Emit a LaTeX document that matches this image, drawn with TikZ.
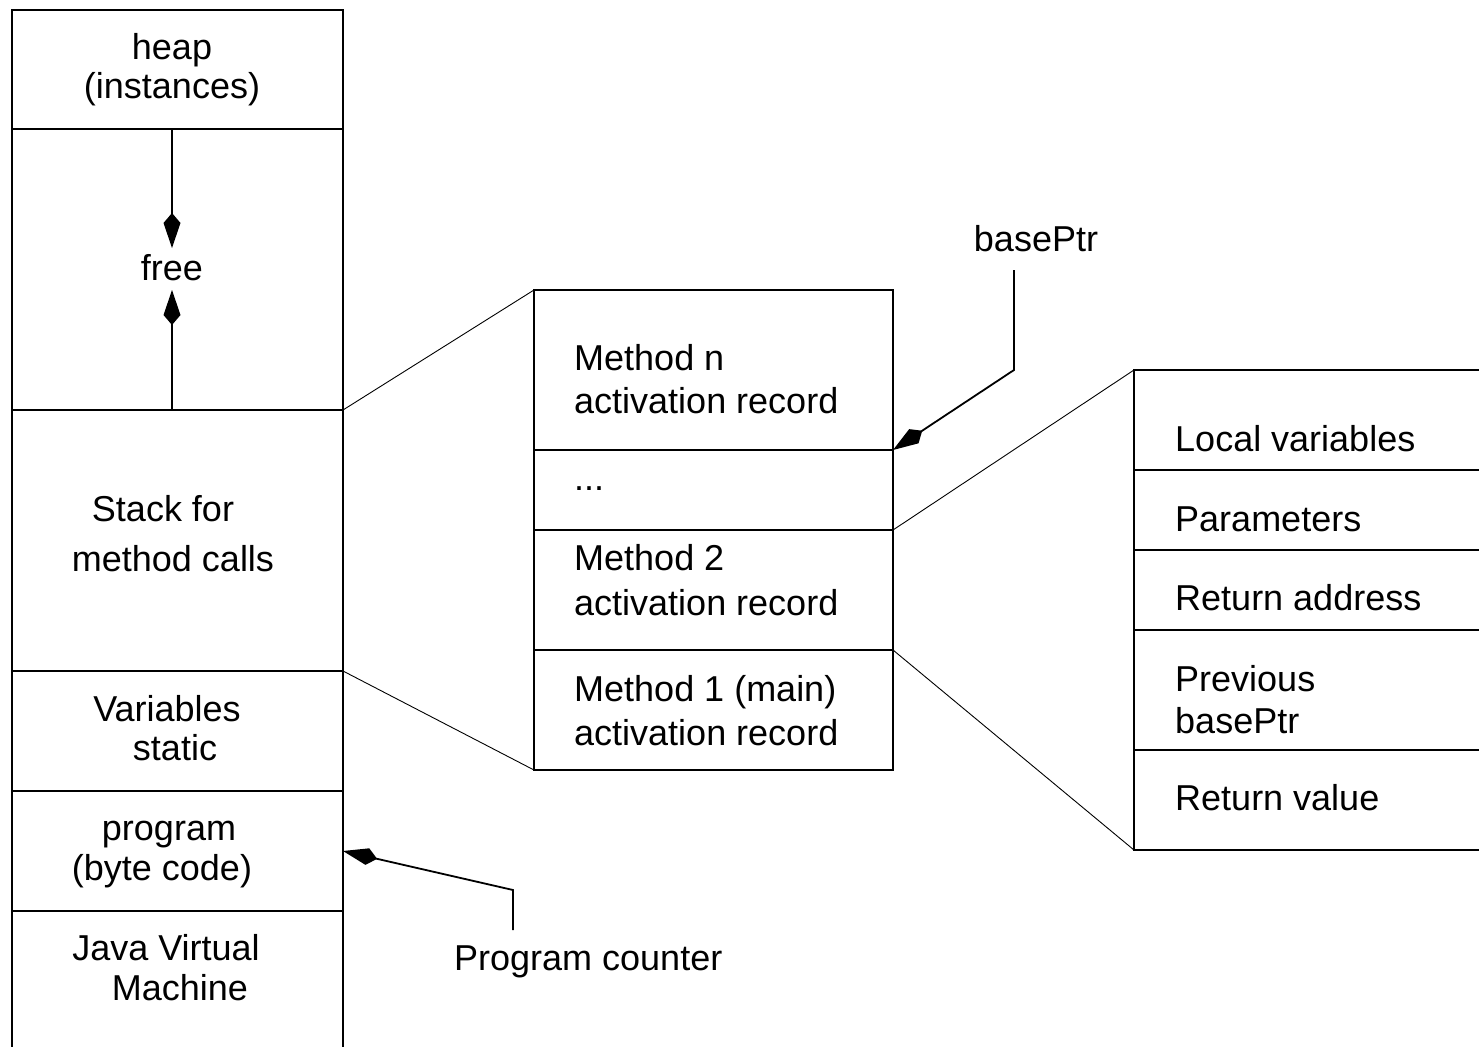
\documentclass[tikz,border=0pt]{standalone}
\usepackage{fontspec}
\setmainfont{Liberation Sans}
\usetikzlibrary{arrows.meta}
\begin{document}
\begin{tikzpicture}[x=1pt,y=-1pt,
  cell/.style={draw,line width=1.6pt,rectangle,inset,anchor=north west},
  inset/.style={inner sep=0pt,outer sep=0pt},
  txt/.style={font=\fontsize{36}{40}\selectfont,inner sep=0pt,anchor=base},
  ltxt/.style={txt,anchor=base west},
  thin/.style={line width=0.9pt},
  ptr/.style={line width=1.8pt,-{Kite[length=35pt,width=17pt,inset=10pt]}}]
\useasboundingbox (0,0) rectangle (1479,1046);
% left column
\node[cell,minimum width=331pt,minimum height=119pt] (heap) at (12,10) {};
\node[cell,minimum width=331pt,minimum height=281pt] (free) at (12,129) {};
\node[cell,minimum width=331pt,minimum height=261pt] (stack) at (12,410) {};
\node[cell,minimum width=331pt,minimum height=120pt] (stat) at (12,671) {};
\node[cell,minimum width=331pt,minimum height=120pt] (prog) at (12,791) {};
\node[cell,minimum width=331pt,minimum height=200pt] (jvm) at (12,911) {};
\node[txt] (t1) at (172,60) {heap};
\node[txt] (t2) at (172,99) {(instances)};
\node[txt] (t3) at (172,280) {free};
\node[txt] (t4) at (163,521) {Stack for};
\node[txt] (t5) at (173,571) {method calls};
\node[txt] (t6) at (167,721) {Variables};
\node[txt] (t7) at (175,760) {static};
\node[txt] (t8) at (169,840) {program};
\node[txt] (t9) at (162,880) {(byte code)};
\node[txt] (t10) at (166,960) {Java Virtual};
\node[txt] (t11) at (180,1000) {Machine};
\coordinate (fa) at (172,248);
\coordinate (fb) at (172,290);
\draw[ptr] (free.north -| fa) -- (fa);
\draw[ptr] (free.south -| fb) -- (fb);
% middle column
\node[cell,minimum width=359pt,minimum height=160pt] (mn) at (534,290) {};
\node[cell,minimum width=359pt,minimum height=80pt] (md) at (534,450) {};
\node[cell,minimum width=359pt,minimum height=120pt] (m2) at (534,530) {};
\node[cell,minimum width=359pt,minimum height=120pt] (m1) at (534,650) {};
\node[ltxt] (u1) at (574,370) {Method n};
\node[ltxt] (u2) at (574,413) {activation record};
\node[ltxt] (u3) at (574,490) {...};
\node[ltxt] (u4) at (574,570) {Method 2};
\node[ltxt] (u5) at (574,615) {activation record};
\node[ltxt] (u6) at (574,701) {Method 1 (main)};
\node[ltxt] (u7) at (574,745) {activation record};
% right column
\node[cell,minimum width=400pt,minimum height=100pt] (lv) at (1134,370) {};
\node[cell,minimum width=400pt,minimum height=80pt] (pa) at (1134,470) {};
\node[cell,minimum width=400pt,minimum height=80pt] (ra) at (1134,550) {};
\node[cell,minimum width=400pt,minimum height=120pt] (pb) at (1134,630) {};
\node[cell,minimum width=400pt,minimum height=100pt] (rv) at (1134,750) {};
\node[ltxt] (v1) at (1175,451) {Local variables};
\node[ltxt] (v2) at (1175,531) {Parameters};
\node[ltxt] (v3) at (1175,610) {Return address};
\node[ltxt] (v4) at (1175,691) {Previous};
\node[ltxt] (v5) at (1175,733) {basePtr};
\node[ltxt] (v6) at (1175,810) {Return value};
% zoom connectors
\draw[thin] (stack.north east) -- (mn.north west);
\draw[thin] (stack.south east) -- (m1.south west);
\draw[thin] (md.south east) -- (lv.north west);
\draw[thin] (m2.south east) -- (rv.south west);
% pointers
\node[txt] (bp) at (1036,251) {basePtr};
\coordinate (bps) at (1014,270);
\coordinate (bpb) at (1014,370);
\draw[ptr,line join=miter] (bps) -- (bpb) -- (mn.south east);
\node[ltxt] (pc) at (454,970) {Program counter};
\coordinate (pcs) at (513,930);
\coordinate (pcb) at (513,890);
\coordinate (pct) at (343,851);
\draw[ptr,line join=miter] (pcs) -- (pcb) -- (pct);
\end{tikzpicture}
\end{document}
